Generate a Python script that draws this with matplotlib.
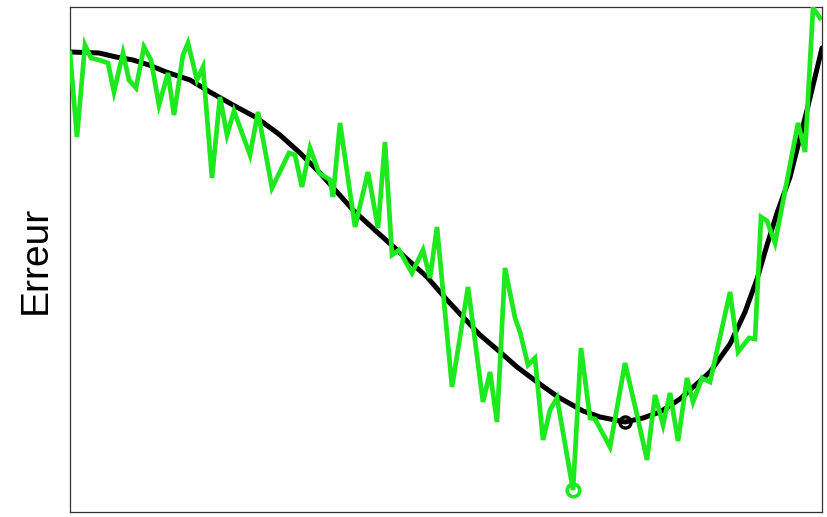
import matplotlib
matplotlib.use("Agg")
import matplotlib.pyplot as plt
import numpy as np

# noisy error trace (green)
noisy_x = [0, 7, 15, 21, 29, 38, 44, 53, 59, 66, 74, 81, 89, 98, 104, 113, 118,
           127, 133, 142, 150, 157, 164, 180, 188, 202, 219, 225, 232, 240, 249,
           260, 263, 270, 285, 298, 308, 315, 322, 329, 342, 353, 360, 367, 382,
           398, 413, 420, 427, 435, 445, 450, 458, 465, 473, 480, 487, 503, 511,
           520, 525, 540, 555, 567, 577, 585, 593, 600, 608, 617, 623, 632, 640,
           660, 668, 679, 685, 691, 697, 705, 728, 735, 743, 750]
noisy_y = [459, 375, 467, 454, 452, 449, 420, 459, 432, 424, 465, 452, 407, 439,
           397, 457, 469, 432, 445, 334, 415, 377, 401, 357, 400, 324, 359, 357,
           325, 364, 339, 332, 315, 389, 285, 340, 284, 370, 257, 262, 239, 262,
           234, 285, 125, 225, 110, 140, 90, 244, 194, 180, 147, 154, 72, 102,
           114, 22, 164, 94, 93, 65, 149, 97, 52, 117, 87, 119, 71, 134, 110,
           134, 130, 220, 160, 174, 173, 295, 291, 269, 389, 360, 504, 494]

# smooth error curve (black)
smooth_x = [0, 29, 46, 63, 79, 96, 120, 140, 163, 187, 210, 230, 250, 283, 307,
            327, 357, 377, 393, 410, 430, 447, 467, 488, 513, 530, 555, 573, 590,
            610, 620, 640, 660, 675, 687, 697, 707, 720, 737, 752]
smooth_y = [460, 459, 455, 452, 447, 440, 432, 420, 407, 394, 377, 359, 339, 302,
            280, 262, 235, 212, 195, 177, 160, 145, 130, 115, 101, 95, 90, 94, 100,
            113, 122, 140, 168, 200, 233, 267, 299, 335, 402, 464]

green = "#1ee81e"

fig = plt.figure(figsize=(8.27, 5.17), dpi=100)
ax = fig.add_axes([0.0846, 0.0097, 0.9094, 0.9768])

ax.plot(smooth_x, smooth_y, color="black", lw=3.6, solid_capstyle="round",
        solid_joinstyle="round", zorder=2)
ax.plot(noisy_x, noisy_y, color=green, lw=3.4, solid_joinstyle="miter", zorder=3)

# minima markers
i_s = int(np.argmin(smooth_y))
ax.plot(smooth_x[i_s], smooth_y[i_s], "o", ms=8, mfc="none", mec="black", mew=2.4, zorder=4)
i_n = int(np.argmin(noisy_y))
ax.plot(noisy_x[i_n], noisy_y[i_n], "o", ms=9, mfc="none", mec=green, mew=2.6, zorder=4)

ax.set_xlim(0, 752)
ax.set_ylim(0, 505)
ax.set_xticks([])
ax.set_yticks([])
for s in ax.spines.values():
    s.set_color("#333333")
    s.set_linewidth(0.9)

ax.set_ylabel("Erreur", fontsize=28, family="Liberation Sans", labelpad=12)

fig.savefig("out.png", dpi=100)
